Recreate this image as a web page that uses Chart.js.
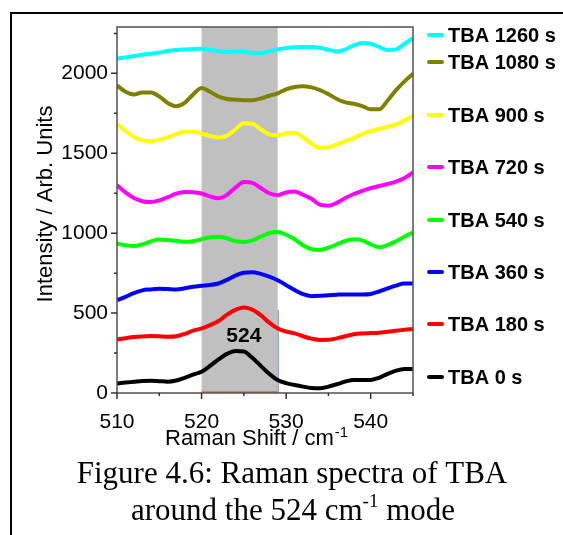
<!DOCTYPE html>
<html>
<head>
<meta charset="utf-8">
<title>Raman spectra of TBA</title>
<script src="https://cdn.jsdelivr.net/npm/chart.js@4.4.1/dist/chart.umd.min.js"></script>
<style>
  html, body { margin: 0; padding: 0; background: #fff; }
  #chart { display: block; }
</style>
</head>
<body>
<canvas id="chart" width="563" height="535"></canvas>
<script>
// Raman shift (cm-1) sampled every 1 cm-1
const shifts = [510,511,512,513,514,515,516,517,518,519,520,521,522,523,524,525,526,527,
  528,529,530,531,532,533,534,535,536,537,538,539,540,541,542,543,544,545];

// spectra, already offset vertically by exposure time
const tba0 = [60,65,70,75,77,74,71,78,95,115,133,170,210,245,263,260,220,170,
  120,81,62,50,40,32,30,40,55,72,82,82,82,95,120,140,150,150];
const tba180 = [335,343,350,354,356,355,352,355,370,390,404,425,450,490,520,535,522,487,
  440,404,385,373,355,340,332,333,342,355,368,373,375,377,383,390,396,400];
const tba360 = [581,602,625,642,648,652,650,648,655,665,671,676,685,708,735,752,756,745,
  728,706,675,644,618,606,608,612,615,617,617,617,620,635,654,672,685,685];
const tba540 = [935,925,919,930,948,960,958,952,946,950,962,975,978,968,950,945,955,978,
  1000,1008,990,962,925,900,895,910,930,952,962,955,930,912,925,950,978,1004];
const tba720 = [1300,1255,1220,1200,1195,1205,1225,1248,1258,1256,1248,1230,1218,1240,1285,1320,1315,1283,
  1250,1238,1255,1260,1240,1215,1178,1172,1190,1220,1245,1265,1282,1295,1308,1322,1345,1380];
const tba900 = [1685,1640,1602,1582,1575,1585,1600,1620,1635,1635,1623,1608,1598,1610,1650,1688,1685,1650,
  1618,1612,1625,1628,1600,1560,1535,1538,1555,1575,1595,1620,1638,1652,1665,1680,1705,1733];
const tba1080 = [1925,1885,1868,1880,1880,1855,1815,1794,1815,1868,1908,1885,1855,1840,1835,1832,1832,1843,
  1860,1875,1900,1915,1920,1912,1895,1870,1840,1818,1810,1795,1775,1775,1830,1895,1950,1998];
const tba1260 = [2091,2100,2108,2116,2122,2130,2140,2146,2150,2153,2154,2148,2138,2134,2136,2135,2128,2125,
  2138,2150,2158,2163,2165,2165,2160,2148,2137,2150,2175,2190,2185,2165,2146,2150,2185,2221];

const seriesNames = ['TBA 1260 s','TBA 1080 s','TBA 900 s','TBA 720 s','TBA 540 s','TBA 360 s','TBA 180 s','TBA 0 s'];
const seriesData = [tba1260, tba1080, tba900, tba720, tba540, tba360, tba180, tba0];
const seriesColors = ['#00ffff','#808000','#ffff00','#ff00ff','#00ff00','#0000ff','#ff0000','#000000'];

// axis ticks: every value gets a mark, only the labelled ones get text
const xTicks = [510,515,520,525,530,535,540,545];
const xTickLabels = [510,520,530,540];
const yTicks = [0,250,500,750,1000,1250,1500,1750,2000,2250];
const yTickLabels = [0,500,1000,1500,2000];

// highlighted region around the Si mode, and the peak label
const bandRange = [520, 529];
const peakLabel = { text: '524', x: 525, y: 356 };

const xMin = 510, xMax = 545;
const yMin = 0, yMax = 2290;

const SANS = '"Liberation Sans", Arial, sans-serif';
const SERIF = '"Liberation Serif", "Times New Roman", serif';

// legend rows sit at their own heights, not evenly spaced
const legendRows = [35, 62, 115, 167, 220, 272, 324, 377];

const datasets = seriesNames.map((name, i) => ({
  label: name,
  data: shifts.map((s, j) => ({ x: s, y: seriesData[i][j] })),
  borderColor: seriesColors[i],
  borderWidth: 4,
  pointRadius: 0,
  cubicInterpolationMode: 'monotone',
  fill: false
}));

const decorations = {
  id: 'decorations',
  beforeDraw(chart) {
    const ctx = chart.ctx;
    ctx.save();
    ctx.fillStyle = '#fff';
    ctx.fillRect(0, 0, chart.width, chart.height);
    // outer figure frame
    ctx.strokeStyle = '#000';
    ctx.lineWidth = 2;
    ctx.beginPath();
    ctx.moveTo(11, chart.height);
    ctx.lineTo(11, 13);
    ctx.lineTo(chart.width, 13);
    ctx.stroke();
    ctx.restore();
  },
  beforeDatasetsDraw(chart) {
    const { ctx, chartArea: a, scales: { x, y } } = chart;
    const x0 = x.getPixelForValue(bandRange[0]);
    const x1 = x.getPixelForValue(bandRange[1]);
    ctx.save();
    ctx.fillStyle = '#c0c0c0';
    ctx.fillRect(x0, a.top, x1 - x0, a.bottom - a.top);
    ctx.strokeStyle = '#c08a50';
    ctx.lineWidth = 2;
    ctx.beginPath();
    ctx.moveTo(x0, a.bottom - 1);
    ctx.lineTo(x1, a.bottom - 1);
    ctx.stroke();
    ctx.strokeStyle = '#7878c0';
    ctx.lineWidth = 1;
    ctx.beginPath();
    ctx.moveTo(x1 + 0.5, y.getPixelForValue(520));
    ctx.lineTo(x1 + 0.5, a.bottom);
    ctx.stroke();
    ctx.restore();
  },
  afterDraw(chart) {
    const { ctx, chartArea: a, scales: { x, y } } = chart;
    ctx.save();

    // plot box
    ctx.strokeStyle = '#505050';
    ctx.lineWidth = 1.5;
    ctx.strokeRect(a.left, a.top, a.right - a.left, a.bottom - a.top);

    // tick marks, longer on labelled values
    ctx.strokeStyle = '#303030';
    ctx.lineWidth = 1.5;
    ctx.beginPath();
    x.ticks.forEach(t => {
      const px = x.getPixelForValue(t.value);
      const len = xTickLabels.includes(t.value) ? 6 : 3;
      ctx.moveTo(px, a.bottom);
      ctx.lineTo(px, a.bottom + len);
    });
    y.ticks.forEach(t => {
      const py = y.getPixelForValue(t.value);
      const len = yTickLabels.includes(t.value) ? 6 : 3;
      ctx.moveTo(a.left, py);
      ctx.lineTo(a.left - len, py);
    });
    ctx.stroke();

    // peak label
    ctx.fillStyle = '#000';
    ctx.font = 'bold 21px ' + SANS;
    ctx.textAlign = 'center';
    ctx.textBaseline = 'middle';
    ctx.fillText(peakLabel.text, x.getPixelForValue(peakLabel.x), y.getPixelForValue(peakLabel.y));

    // legend
    ctx.font = 'bold 20px ' + SANS;
    ctx.textAlign = 'left';
    ctx.lineCap = 'round';
    seriesNames.forEach((name, i) => {
      const ry = legendRows[i];
      ctx.strokeStyle = seriesColors[i];
      ctx.lineWidth = 4;
      ctx.beginPath();
      ctx.moveTo(429, ry);
      ctx.lineTo(442, ry);
      ctx.stroke();
      ctx.fillStyle = '#000';
      ctx.fillText(name, 448, ry + 1);
    });

    // y axis title
    ctx.save();
    ctx.translate(52, 204);
    ctx.rotate(-Math.PI / 2);
    ctx.font = '22px ' + SANS;
    ctx.textAlign = 'center';
    ctx.textBaseline = 'alphabetic';
    ctx.fillText('Intensity / Arb. Units', 0, 0);
    ctx.restore();

    // x axis title with superscript
    ctx.textBaseline = 'alphabetic';
    ctx.textAlign = 'left';
    ctx.font = '22px ' + SANS;
    const xt = 'Raman Shift / cm';
    ctx.fillText(xt, 165, 445);
    const xw = ctx.measureText(xt).width;
    ctx.font = '15px ' + SANS;
    ctx.fillText('-1', 165 + xw + 1, 437);

    // caption
    ctx.font = '31px ' + SERIF;
    ctx.textAlign = 'center';
    ctx.fillText('Figure 4.6: Raman spectra of TBA', 292, 483);
    const c1 = 'around the 524 cm', c2 = '-1', c3 = ' mode';
    ctx.textAlign = 'left';
    const w1 = ctx.measureText(c1).width;
    const w3 = ctx.measureText(c3).width;
    ctx.font = '19px ' + SERIF;
    const w2 = ctx.measureText(c2).width;
    const start = 293 - (w1 + w2 + w3) / 2;
    ctx.font = '31px ' + SERIF;
    ctx.fillText(c1, start, 520);
    ctx.fillText(c3, start + w1 + w2, 520);
    ctx.font = '19px ' + SERIF;
    ctx.fillText(c2, start + w1, 507);

    ctx.restore();
  }
};

new Chart(document.getElementById('chart'), {
  type: 'line',
  data: { datasets },
  plugins: [decorations],
  options: {
    responsive: false,
    devicePixelRatio: 1,
    animation: false,
    events: [],
    layout: { padding: { top: 27, right: 150, left: 0, bottom: 0 } },
    plugins: {
      legend: { display: false },
      tooltip: { enabled: false }
    },
    scales: {
      x: {
        type: 'linear',
        min: xMin,
        max: xMax,
        grid: { display: false },
        border: { display: false },
        afterBuildTicks: s => { s.ticks = xTicks.map(v => ({ value: v })); },
        afterFit: s => { s.height = 142; },
        ticks: {
          autoSkip: false,
          maxRotation: 0,
          padding: 9,
          color: '#000',
          font: { family: SANS, size: 21 },
          callback: v => (xTickLabels.includes(v) ? String(v) : '')
        }
      },
      y: {
        type: 'linear',
        min: yMin,
        max: yMax,
        grid: { display: false },
        border: { display: false },
        afterBuildTicks: s => { s.ticks = yTicks.map(v => ({ value: v })); },
        afterFit: s => { s.width = 117; },
        ticks: {
          autoSkip: false,
          padding: 1,
          color: '#000',
          font: { family: SANS, size: 21 },
          callback: v => (yTickLabels.includes(v) ? String(v) : '')
        }
      }
    }
  }
});
</script>
</body>
</html>
